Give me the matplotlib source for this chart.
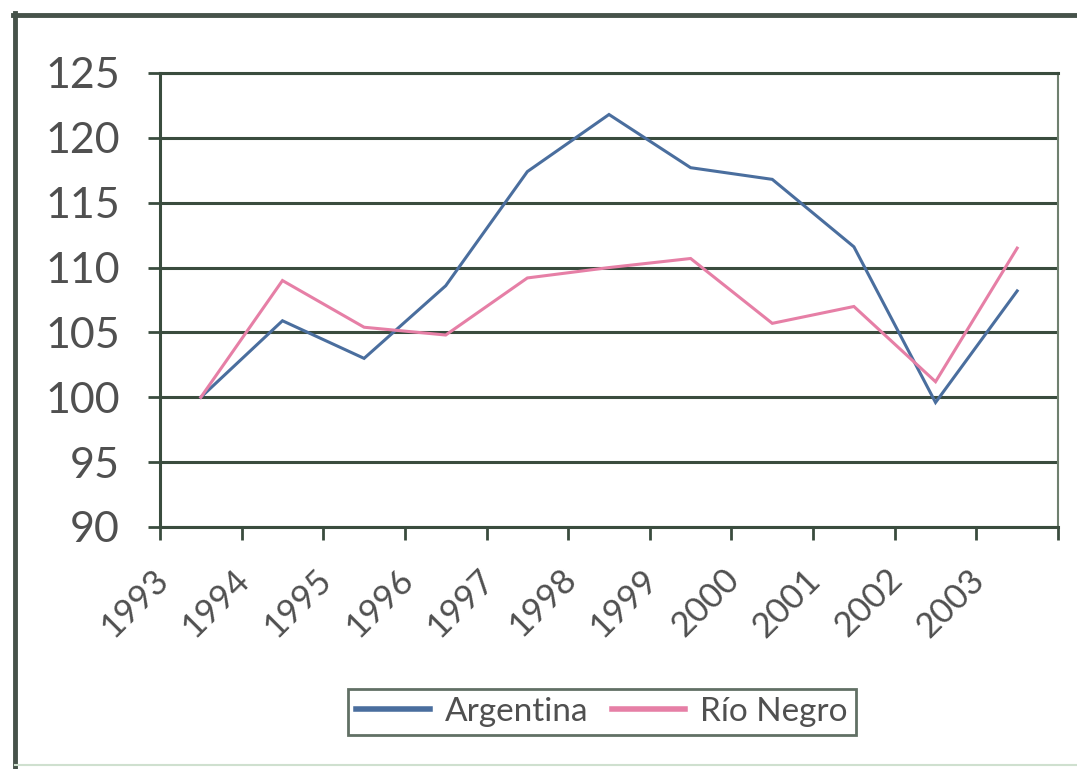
import matplotlib
matplotlib.use("Agg")
import matplotlib.pyplot as plt
import matplotlib.transforms as mtransforms
from matplotlib.lines import Line2D

years = ["1993", "1994", "1995", "1996", "1997", "1998", "1999", "2000", "2001", "2002", "2003"]
argentina = [100.0, 105.9, 103.0, 108.6, 117.4, 121.8, 117.7, 116.8, 111.6, 99.6, 108.2]
rio_negro = [100.0, 109.0, 105.4, 104.8, 109.2, 110.0, 110.7, 105.7, 107.0, 101.2, 111.5]
y_ticks = [90, 95, 100, 105, 110, 115, 120, 125]

GRID = "#3a4c3e"
TEXT = "#505050"
BLUE = "#4a6e9e"
PINK = "#e67fa6"
FONT = ["Lato", "DejaVu Sans"]

plt.rcParams["font.family"] = FONT

W, H = 1077, 769
fig = plt.figure(figsize=(W / 100, H / 100), dpi=100)
ax = fig.add_axes([160 / W, 1 - 527 / H, (1058 - 160) / W, (527 - 73) / H])

n = len(years)
xs = [i + 0.5 for i in range(n)]
ax.plot(xs, argentina, color=BLUE, lw=2.2, label="Argentina", zorder=3, solid_joinstyle="miter")
ax.plot(xs, rio_negro, color=PINK, lw=2.2, label="Río Negro", zorder=3, solid_joinstyle="miter")

ax.set_xlim(0, n)
ax.set_ylim(90, 125)
ax.set_yticks(y_ticks)
ax.set_yticklabels([str(v) for v in y_ticks])
ax.yaxis.grid(True, color=GRID, lw=2.2)
ax.set_axisbelow(True)

ax.set_xticks(range(n + 1))
ax.set_xticklabels(years + [""])

for s in ["left", "bottom"]:
    ax.spines[s].set_color(GRID)
    ax.spines[s].set_linewidth(2.2)
ax.spines["right"].set_color("#6f806f")
ax.spines["right"].set_linewidth(1.5)
ax.spines["top"].set_color(GRID)
ax.spines["top"].set_linewidth(2.2)

ax.tick_params(axis="y", length=9, width=2, color=GRID, pad=20,
               labelsize=31, labelcolor=TEXT)
ax.tick_params(axis="x", length=9, width=2, color=GRID, pad=17,
               labelsize=25, labelcolor=TEXT)

offset = mtransforms.ScaledTranslation(14 / 100, 0, fig.dpi_scale_trans)
for lbl in ax.get_xticklabels():
    lbl.set_rotation(45)
    lbl.set_ha("right")
    lbl.set_va("top")
    lbl.set_transform(lbl.get_transform() + offset)

leg = fig.legend(loc="center", bbox_to_anchor=(602 / W, 1 - 712 / H), ncol=2,
                 fontsize=24, frameon=True, fancybox=False, handlelength=2.2,
                 handletextpad=0.45, columnspacing=0.7, borderpad=0.25,
                 labelcolor=TEXT)
leg.get_frame().set_edgecolor(GRID)
leg.get_frame().set_linewidth(2.0)
for h in leg.legend_handles:
    h.set_linewidth(4)

# outer frame
fig.add_artist(Line2D([15 / W, 15 / W], [0, 1 - 13 / H], transform=fig.transFigure,
                      color="#46524a", lw=3.5))
fig.add_artist(Line2D([13 / W, 1], [1 - 15 / H, 1 - 15 / H], transform=fig.transFigure,
                      color="#46524a", lw=3.5))
fig.add_artist(Line2D([15 / W, 1], [1 - 765 / H, 1 - 765 / H], transform=fig.transFigure,
                      color="#cfe0cf", lw=1.5))

fig.savefig("out.png", dpi=100)
